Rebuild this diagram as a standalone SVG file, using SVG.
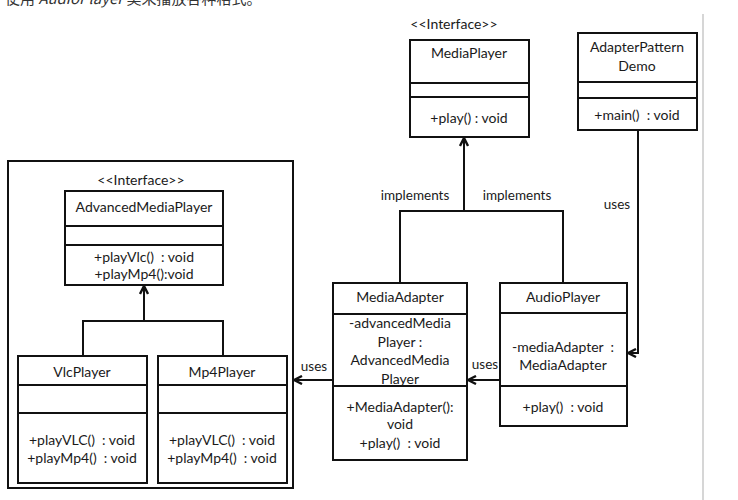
<svg xmlns="http://www.w3.org/2000/svg" width="738" height="500" viewBox="0 0 738 500">
<style>
.box{fill:#fff;stroke:#111;stroke-width:2}
.ln{fill:none;stroke:#111;stroke-width:2}
text{font-family:Lato,"Open Sans","Liberation Sans",sans-serif;font-size:14px;fill:#1a1a1a;text-anchor:middle;white-space:pre}
.lbl{font-size:13.5px}
.cap{font-family:"Noto Sans CJK SC","Liberation Sans",sans-serif;font-size:15px;fill:#333;text-anchor:start}
</style>
<defs>
<marker id="arr" viewBox="0 0 10 10" refX="9" refY="5" markerWidth="10" markerHeight="10" markerUnits="userSpaceOnUse" orient="auto">
<path d="M1,1 L9,5 L1,9" fill="none" stroke="#111" stroke-width="2.4"/>
</marker>
</defs>
<rect width="738" height="500" fill="#fff"/>
<text class="cap" x="5" y="4">使用 <tspan font-style="italic">AudioPlayer</tspan> 类来播放各种格式。</text>
<line x1="703" y1="14" x2="703" y2="500" stroke="#c8c8c8" stroke-width="1.5"/>

<g id="package">
<rect class="box" x="8" y="161" width="285" height="327"/>
</g>

<g id="MediaPlayer">
<text x="454" y="29">&lt;&lt;Interface&gt;&gt;</text>
<rect class="box" x="410" y="40" width="119" height="97"/>
<line class="ln" x1="410" y1="83" x2="529" y2="83"/>
<line class="ln" x1="410" y1="97" x2="529" y2="97"/>
<text x="469" y="58">MediaPlayer</text>
<text x="469" y="123">+play() : void</text>
</g>

<g id="AdapterPatternDemo">
<rect class="box" x="578" y="33" width="119" height="97"/>
<line class="ln" x1="578" y1="82" x2="697" y2="82"/>
<line class="ln" x1="578" y1="98" x2="697" y2="98"/>
<text x="637" y="52">AdapterPattern</text>
<text x="637" y="71">Demo</text>
<text x="637" y="120">+main()  : void</text>
</g>

<g id="AdvancedMediaPlayer">
<text x="141" y="185">&lt;&lt;Interface&gt;&gt;</text>
<rect class="box" x="65" y="191" width="158" height="94"/>
<line class="ln" x1="65" y1="226" x2="223" y2="226"/>
<line class="ln" x1="65" y1="245" x2="223" y2="245"/>
<text x="144" y="212">AdvancedMediaPlayer</text>
<text x="144" y="262">+playVlc()  : void</text>
<text x="144" y="279">+playMp4():void</text>
</g>

<g id="VlcPlayer">
<rect class="box" x="18" y="356" width="129" height="127"/>
<line class="ln" x1="18" y1="385" x2="147" y2="385"/>
<line class="ln" x1="18" y1="413" x2="147" y2="413"/>
<text x="82" y="377">VlcPlayer</text>
<text x="82" y="445">+playVLC()  : void</text>
<text x="82" y="463">+playMp4()  : void</text>
</g>

<g id="Mp4Player">
<rect class="box" x="158" y="356" width="129" height="127"/>
<line class="ln" x1="158" y1="385" x2="287" y2="385"/>
<line class="ln" x1="158" y1="413" x2="287" y2="413"/>
<text x="222" y="377">Mp4Player</text>
<text x="222" y="445">+playVLC()  : void</text>
<text x="222" y="463">+playMp4()  : void</text>
</g>

<g id="MediaAdapter">
<rect class="box" x="333" y="283" width="134" height="177"/>
<line class="ln" x1="333" y1="314" x2="467" y2="314"/>
<line class="ln" x1="333" y1="386" x2="467" y2="386"/>
<text x="400" y="302">MediaAdapter</text>
<text x="400" y="328">-advancedMedia</text>
<text x="400" y="347">Player :</text>
<text x="400" y="365">AdvancedMedia</text>
<text x="400" y="384">Player</text>
<text x="400" y="412">+MediaAdapter():</text>
<text x="400" y="429">void</text>
<text x="400" y="448">+play()  : void</text>
</g>

<g id="AudioPlayer">
<rect class="box" x="500" y="283" width="127" height="143"/>
<line class="ln" x1="500" y1="313" x2="627" y2="313"/>
<line class="ln" x1="500" y1="386" x2="627" y2="386"/>
<text x="563" y="302">AudioPlayer</text>
<text x="563" y="352">-mediaAdapter  :</text>
<text x="563" y="370">MediaAdapter</text>
<text x="563" y="412">+play()  : void</text>
</g>

<g id="connectors">
<path class="ln" d="M400,283 V211 H563 V283"/>
<path class="ln" d="M464,211 V138" marker-end="url(#arr)"/>
<path class="ln" d="M83,356 V321 H223 V356"/>
<path class="ln" d="M144,321 V286" marker-end="url(#arr)"/>
<path class="ln" d="M638,130 V353 H628" marker-end="url(#arr)"/>
<path class="ln" d="M500,380 H468" marker-end="url(#arr)"/>
<path class="ln" d="M333,380 H294" marker-end="url(#arr)"/>
<text class="lbl" x="415" y="200">implements</text>
<text class="lbl" x="517" y="200">implements</text>
<text class="lbl" x="617" y="209">uses</text>
<text class="lbl" x="485" y="369">uses</text>
<text class="lbl" x="314" y="371">uses</text>
</g>
</svg>
